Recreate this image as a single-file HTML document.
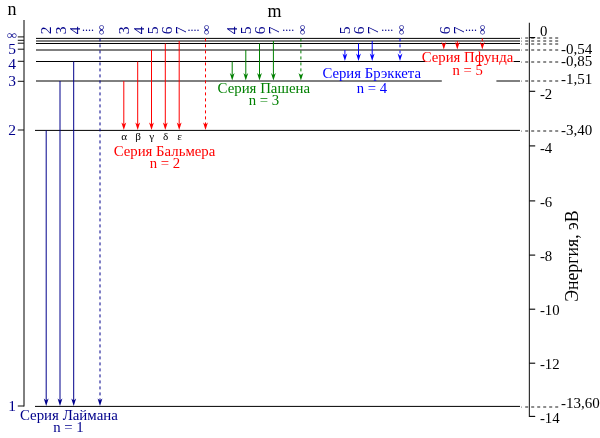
<!DOCTYPE html>
<html><head><meta charset="utf-8"><title>Спектр водорода</title>
<style>html,body{margin:0;padding:0;background:#fff}svg{display:block}text{font-family:"Liberation Serif","DejaVu Serif",serif}</style>
</head><body>
<svg width="600" height="438" viewBox="0 0 600 438">
<rect width="600" height="438" fill="#fff"/>
<line x1="36" y1="38.4" x2="520" y2="38.4" stroke="#000" stroke-width="1"/>
<line x1="36" y1="41.0" x2="520" y2="41.0" stroke="#000" stroke-width="1"/>
<line x1="36" y1="43.5" x2="520" y2="43.5" stroke="#000" stroke-width="1"/>
<line x1="36" y1="50.0" x2="520" y2="50.0" stroke="#000" stroke-width="1"/>
<line x1="36" y1="61.5" x2="425" y2="61.5" stroke="#000" stroke-width="1"/>
<line x1="513.5" y1="61.5" x2="520" y2="61.5" stroke="#000" stroke-width="1"/>
<line x1="36" y1="81.0" x2="441.8" y2="81.0" stroke="#000" stroke-width="1"/>
<line x1="496.4" y1="81.0" x2="520" y2="81.0" stroke="#000" stroke-width="1"/>
<line x1="35" y1="130.4" x2="520" y2="130.4" stroke="#000" stroke-width="1"/>
<line x1="35" y1="406.4" x2="520" y2="406.4" stroke="#000" stroke-width="1"/>
<line x1="521" y1="38.2" x2="521.9" y2="38.2" stroke="#888" stroke-width="1.3"/>
<line x1="525.2" y1="38" x2="558.2" y2="38" stroke="#686868" stroke-width="1.7" stroke-dasharray="3 3"/>
<line x1="521" y1="41.2" x2="521.9" y2="41.2" stroke="#888" stroke-width="1.3"/>
<line x1="525.2" y1="41" x2="558.2" y2="41" stroke="#686868" stroke-width="1.7" stroke-dasharray="3 3"/>
<line x1="521" y1="44.2" x2="521.9" y2="44.2" stroke="#888" stroke-width="1.3"/>
<line x1="525.2" y1="44" x2="558.2" y2="44" stroke="#686868" stroke-width="1.7" stroke-dasharray="3 3"/>
<line x1="521" y1="50.2" x2="521.9" y2="50.2" stroke="#888" stroke-width="1.3"/>
<line x1="525.2" y1="50" x2="558.2" y2="50" stroke="#686868" stroke-width="1.7" stroke-dasharray="3 3"/>
<line x1="521" y1="62.2" x2="521.9" y2="62.2" stroke="#888" stroke-width="1.3"/>
<line x1="525.2" y1="62" x2="558.2" y2="62" stroke="#686868" stroke-width="1.7" stroke-dasharray="3 3"/>
<line x1="521" y1="81.2" x2="521.9" y2="81.2" stroke="#888" stroke-width="1.3"/>
<line x1="525.2" y1="81" x2="558.2" y2="81" stroke="#686868" stroke-width="1.7" stroke-dasharray="3 3"/>
<line x1="521" y1="131.2" x2="521.9" y2="131.2" stroke="#888" stroke-width="1.3"/>
<line x1="525.2" y1="131" x2="558.2" y2="131" stroke="#686868" stroke-width="1.7" stroke-dasharray="3 3"/>
<line x1="521" y1="407.2" x2="521.9" y2="407.2" stroke="#888" stroke-width="1.3"/>
<line x1="525.2" y1="407" x2="558.2" y2="407" stroke="#686868" stroke-width="1.7" stroke-dasharray="3 3"/>
<line x1="24" y1="20" x2="24" y2="406.5" stroke="#000" stroke-width="1"/>
<line x1="17.8" y1="36.9" x2="24" y2="36.9" stroke="#111" stroke-width="1"/>
<line x1="17.8" y1="40.3" x2="24" y2="40.3" stroke="#111" stroke-width="1"/>
<line x1="17.8" y1="43.2" x2="24" y2="43.2" stroke="#111" stroke-width="1"/>
<line x1="17.8" y1="49.2" x2="24" y2="49.2" stroke="#111" stroke-width="1"/>
<line x1="17.8" y1="61.3" x2="24" y2="61.3" stroke="#111" stroke-width="1"/>
<line x1="17.8" y1="81.3" x2="24" y2="81.3" stroke="#111" stroke-width="1"/>
<line x1="17.8" y1="130.0" x2="24" y2="130.0" stroke="#111" stroke-width="1"/>
<line x1="17.8" y1="406.0" x2="24" y2="406.0" stroke="#111" stroke-width="1"/>
<text x="12" y="14.9" fill="#000" font-size="18" text-anchor="middle">n</text>
<text x="274.6" y="16.8" fill="#000" font-size="18" text-anchor="middle">m</text>
<text transform="translate(12,35.7) scale(1,0.82)" fill="#00008b" font-size="14.6" text-anchor="middle" y="3.6">∞</text>
<text x="12" y="54.4" fill="#00008b" font-size="15.5" text-anchor="middle">5</text>
<text x="12" y="69.0" fill="#00008b" font-size="15.5" text-anchor="middle">4</text>
<text x="12" y="85.7" fill="#00008b" font-size="15.5" text-anchor="middle">3</text>
<text x="12" y="135.2" fill="#00008b" font-size="15.5" text-anchor="middle">2</text>
<text x="12" y="410.9" fill="#00008b" font-size="15.5" text-anchor="middle">1</text>
<line x1="529.4" y1="22.8" x2="529.4" y2="416.9" stroke="#333" stroke-width="1.2"/>
<line x1="529.4" y1="37.6" x2="535.2" y2="37.6" stroke="#000" stroke-width="1.1"/>
<text x="540" y="35.7" fill="#000" font-size="14.8" text-anchor="start">0</text>
<line x1="529.4" y1="91.3" x2="535.2" y2="91.3" stroke="#000" stroke-width="1.1"/>
<text x="539.9" y="98.75" fill="#000" font-size="14.8" text-anchor="start">-2</text>
<line x1="529.4" y1="145.9" x2="535.2" y2="145.9" stroke="#000" stroke-width="1.1"/>
<text x="539.9" y="152.75" fill="#000" font-size="14.8" text-anchor="start">-4</text>
<line x1="529.4" y1="200.9" x2="535.2" y2="200.9" stroke="#000" stroke-width="1.1"/>
<text x="539.9" y="206.75" fill="#000" font-size="14.8" text-anchor="start">-6</text>
<line x1="529.4" y1="255.1" x2="535.2" y2="255.1" stroke="#000" stroke-width="1.1"/>
<text x="539.9" y="260.75" fill="#000" font-size="14.8" text-anchor="start">-8</text>
<line x1="529.4" y1="309.2" x2="535.2" y2="309.2" stroke="#000" stroke-width="1.1"/>
<text x="539.9" y="314.75" fill="#000" font-size="14.8" text-anchor="start">-10</text>
<line x1="529.4" y1="363.2" x2="535.2" y2="363.2" stroke="#000" stroke-width="1.1"/>
<text x="539.9" y="368.75" fill="#000" font-size="14.8" text-anchor="start">-12</text>
<line x1="529.4" y1="416.4" x2="535.2" y2="416.4" stroke="#000" stroke-width="1.1"/>
<text x="539.9" y="422.75" fill="#000" font-size="14.8" text-anchor="start">-14</text>
<text x="560.9" y="53.9" fill="#000" font-size="15.0" text-anchor="start">-0,54</text>
<text x="560.9" y="66.0" fill="#000" font-size="15.0" text-anchor="start">-0,85</text>
<text x="560.9" y="83.7" fill="#000" font-size="15.0" text-anchor="start">-1,51</text>
<text x="560.9" y="135.1" fill="#000" font-size="15.0" text-anchor="start">-3,40</text>
<text x="560.9" y="407.7" fill="#000" font-size="15.0" text-anchor="start">-13,60</text>
<text transform="translate(577.7,301.8) rotate(-90)" fill="#000" font-size="17.8">Энергия, эВ</text>
<line x1="46.2" y1="130.4" x2="46.2" y2="402.4" stroke="#00008b" stroke-width="1"/>
<path d="M46.2 406.0 L43.800000000000004 398.4 L46.2 400.6 L48.6 398.4 Z" fill="#00008b"/>
<text transform="translate(50.9,34.3) rotate(-90)" fill="#00008b" font-size="15.5">2</text>
<line x1="60.0" y1="81.0" x2="60.0" y2="402.4" stroke="#00008b" stroke-width="1"/>
<path d="M60.0 406.0 L57.6 398.4 L60.0 400.6 L62.4 398.4 Z" fill="#00008b"/>
<text transform="translate(66.2,34.3) rotate(-90)" fill="#00008b" font-size="15.5">3</text>
<line x1="73.7" y1="61.5" x2="73.7" y2="402.4" stroke="#00008b" stroke-width="1"/>
<path d="M73.7 406.0 L71.3 398.4 L73.7 400.6 L76.10000000000001 398.4 Z" fill="#00008b"/>
<text transform="translate(79.5,34.3) rotate(-90)" fill="#00008b" font-size="15.5">4</text>
<line x1="100.0" y1="38.4" x2="100.0" y2="402.4" stroke="#00008b" stroke-width="1" stroke-dasharray="3 3"/>
<path d="M100.0 406.0 L97.6 398.4 L100.0 400.6 L102.4 398.4 Z" fill="#00008b"/>
<text x="81.9" y="30.8" fill="#00008b" font-size="12" text-anchor="start">....</text>
<text transform="translate(102.14999999999999,29.9) rotate(-90) scale(1,0.82)" fill="#00008b" font-size="14.6" text-anchor="middle" y="3.6">∞</text>
<text x="68.9" y="420" fill="#00008b" font-size="14.9" text-anchor="middle">Серия Лаймана</text>
<text x="68.4" y="432" fill="#00008b" font-size="14.8" text-anchor="middle">n = 1</text>
<line x1="123.8" y1="81.0" x2="123.8" y2="126.4" stroke="#ff0000" stroke-width="1"/>
<path d="M123.8 130.0 L121.39999999999999 122.4 L123.8 124.6 L126.2 122.4 Z" fill="#ff0000"/>
<text transform="translate(129.3,34.3) rotate(-90)" fill="#00008b" font-size="15.5">3</text>
<line x1="137.7" y1="61.5" x2="137.7" y2="126.4" stroke="#ff0000" stroke-width="1"/>
<path d="M137.7 130.0 L135.29999999999998 122.4 L137.7 124.6 L140.1 122.4 Z" fill="#ff0000"/>
<text transform="translate(143.5,34.3) rotate(-90)" fill="#00008b" font-size="15.5">4</text>
<line x1="151.5" y1="50.0" x2="151.5" y2="126.4" stroke="#ff0000" stroke-width="1"/>
<path d="M151.5 130.0 L149.1 122.4 L151.5 124.6 L153.9 122.4 Z" fill="#ff0000"/>
<text transform="translate(157.70000000000002,34.3) rotate(-90)" fill="#00008b" font-size="15.5">5</text>
<line x1="165.3" y1="43.5" x2="165.3" y2="126.4" stroke="#ff0000" stroke-width="1"/>
<path d="M165.3 130.0 L162.9 122.4 L165.3 124.6 L167.70000000000002 122.4 Z" fill="#ff0000"/>
<text transform="translate(171.9,34.3) rotate(-90)" fill="#00008b" font-size="15.5">6</text>
<line x1="179.2" y1="41.0" x2="179.2" y2="126.4" stroke="#ff0000" stroke-width="1"/>
<path d="M179.2 130.0 L176.79999999999998 122.4 L179.2 124.6 L181.6 122.4 Z" fill="#ff0000"/>
<text transform="translate(186.10000000000002,34.3) rotate(-90)" fill="#00008b" font-size="15.5">7</text>
<line x1="205.5" y1="38.4" x2="205.5" y2="126.4" stroke="#ff0000" stroke-width="1" stroke-dasharray="3 3"/>
<path d="M205.5 130.0 L203.1 122.4 L205.5 124.6 L207.9 122.4 Z" fill="#ff0000"/>
<text x="187.4" y="30.8" fill="#00008b" font-size="12" text-anchor="start">....</text>
<text transform="translate(207.20000000000002,29.9) rotate(-90) scale(1,0.82)" fill="#00008b" font-size="14.6" text-anchor="middle" y="3.6">∞</text>
<text x="124.1" y="140.2" fill="#000" font-size="11.2" text-anchor="middle">α</text>
<text x="138.0" y="140.2" fill="#000" font-size="11.2" text-anchor="middle">β</text>
<text x="151.8" y="140.2" fill="#000" font-size="11.2" text-anchor="middle">γ</text>
<text x="165.60000000000002" y="140.2" fill="#000" font-size="11.2" text-anchor="middle">δ</text>
<text x="179.5" y="140.2" fill="#000" font-size="11.2" text-anchor="middle">ε</text>
<text x="164.5" y="155.9" fill="#ff0000" font-size="14.8" text-anchor="middle">Серия Бальмера</text>
<text x="165" y="167.8" fill="#ff0000" font-size="14.8" text-anchor="middle">n = 2</text>
<line x1="232.2" y1="61.5" x2="232.2" y2="77.0" stroke="#008000" stroke-width="1"/>
<path d="M232.2 80.6 L229.79999999999998 73.0 L232.2 75.19999999999999 L234.6 73.0 Z" fill="#008000"/>
<text transform="translate(236.50000000000003,34.3) rotate(-90)" fill="#00008b" font-size="15.5">4</text>
<line x1="245.8" y1="50.0" x2="245.8" y2="77.0" stroke="#008000" stroke-width="1"/>
<path d="M245.8 80.6 L243.4 73.0 L245.8 75.19999999999999 L248.20000000000002 73.0 Z" fill="#008000"/>
<text transform="translate(250.70000000000002,34.3) rotate(-90)" fill="#00008b" font-size="15.5">5</text>
<line x1="259.5" y1="43.5" x2="259.5" y2="77.0" stroke="#008000" stroke-width="1"/>
<path d="M259.5 80.6 L257.1 73.0 L259.5 75.19999999999999 L261.9 73.0 Z" fill="#008000"/>
<text transform="translate(264.90000000000003,34.3) rotate(-90)" fill="#00008b" font-size="15.5">6</text>
<line x1="273.4" y1="41.0" x2="273.4" y2="77.0" stroke="#008000" stroke-width="1"/>
<path d="M273.4 80.6 L271.0 73.0 L273.4 75.19999999999999 L275.79999999999995 73.0 Z" fill="#008000"/>
<text transform="translate(279.1,34.3) rotate(-90)" fill="#00008b" font-size="15.5">7</text>
<line x1="300.9" y1="38.4" x2="300.9" y2="77.0" stroke="#008000" stroke-width="1" stroke-dasharray="3 3"/>
<path d="M300.9 80.6 L298.5 73.0 L300.9 75.19999999999999 L303.29999999999995 73.0 Z" fill="#008000"/>
<text x="282.2" y="30.8" fill="#00008b" font-size="12" text-anchor="start">....</text>
<text transform="translate(303.2,29.9) rotate(-90) scale(1,0.82)" fill="#00008b" font-size="14.6" text-anchor="middle" y="3.6">∞</text>
<text x="263.8" y="92.9" fill="#008000" font-size="14.85" text-anchor="middle">Серия Пашена</text>
<text x="264" y="105" fill="#008000" font-size="14.8" text-anchor="middle">n = 3</text>
<line x1="344.9" y1="50.0" x2="344.9" y2="57.5" stroke="#0000ff" stroke-width="1"/>
<path d="M344.9 61.1 L342.5 53.5 L344.9 55.7 L347.29999999999995 53.5 Z" fill="#0000ff"/>
<text transform="translate(349.70000000000005,34.3) rotate(-90)" fill="#00008b" font-size="15.5">5</text>
<line x1="358.5" y1="43.5" x2="358.5" y2="57.5" stroke="#0000ff" stroke-width="1"/>
<path d="M358.5 61.1 L356.1 53.5 L358.5 55.7 L360.9 53.5 Z" fill="#0000ff"/>
<text transform="translate(363.90000000000003,34.3) rotate(-90)" fill="#00008b" font-size="15.5">6</text>
<line x1="372.2" y1="41.0" x2="372.2" y2="57.5" stroke="#0000ff" stroke-width="1"/>
<path d="M372.2 61.1 L369.8 53.5 L372.2 55.7 L374.59999999999997 53.5 Z" fill="#0000ff"/>
<text transform="translate(378.1,34.3) rotate(-90)" fill="#00008b" font-size="15.5">7</text>
<line x1="400" y1="38.4" x2="400" y2="57.5" stroke="#0000ff" stroke-width="1" stroke-dasharray="3 3"/>
<path d="M400 61.1 L397.6 53.5 L400 55.7 L402.4 53.5 Z" fill="#0000ff"/>
<text x="381.2" y="30.8" fill="#00008b" font-size="12" text-anchor="start">....</text>
<text transform="translate(402.2,29.9) rotate(-90) scale(1,0.82)" fill="#00008b" font-size="14.6" text-anchor="middle" y="3.6">∞</text>
<text x="371.7" y="78.0" fill="#0000ff" font-size="14.75" text-anchor="middle">Серия Брэккета</text>
<text x="371.9" y="93.2" fill="#0000ff" font-size="14.7" text-anchor="middle">n = 4</text>
<line x1="443.8" y1="43.5" x2="443.8" y2="46.0" stroke="#ff0000" stroke-width="1"/>
<path d="M443.8 49.6 L441.40000000000003 42.0 L443.8 44.2 L446.2 42.0 Z" fill="#ff0000"/>
<text transform="translate(450.2,34.3) rotate(-90)" fill="#00008b" font-size="15.5">6</text>
<line x1="457.3" y1="41.0" x2="457.3" y2="46.0" stroke="#ff0000" stroke-width="1"/>
<path d="M457.3 49.6 L454.90000000000003 42.0 L457.3 44.2 L459.7 42.0 Z" fill="#ff0000"/>
<text transform="translate(463.9,34.3) rotate(-90)" fill="#00008b" font-size="15.5">7</text>
<line x1="482.3" y1="38.4" x2="482.3" y2="46.0" stroke="#ff0000" stroke-width="1" stroke-dasharray="3 3"/>
<path d="M482.3 49.6 L479.90000000000003 42.0 L482.3 44.2 L484.7 42.0 Z" fill="#ff0000"/>
<text x="465" y="30.8" fill="#00008b" font-size="12" text-anchor="start">....</text>
<text transform="translate(483.3,29.9) rotate(-90) scale(1,0.82)" fill="#00008b" font-size="14.6" text-anchor="middle" y="3.6">∞</text>
<text x="467.5" y="61.6" fill="#ff0000" font-size="14.75" text-anchor="middle">Серия Пфунда</text>
<text x="467.7" y="74.7" fill="#ff0000" font-size="14.7" text-anchor="middle">n = 5</text>
</svg></body></html>
